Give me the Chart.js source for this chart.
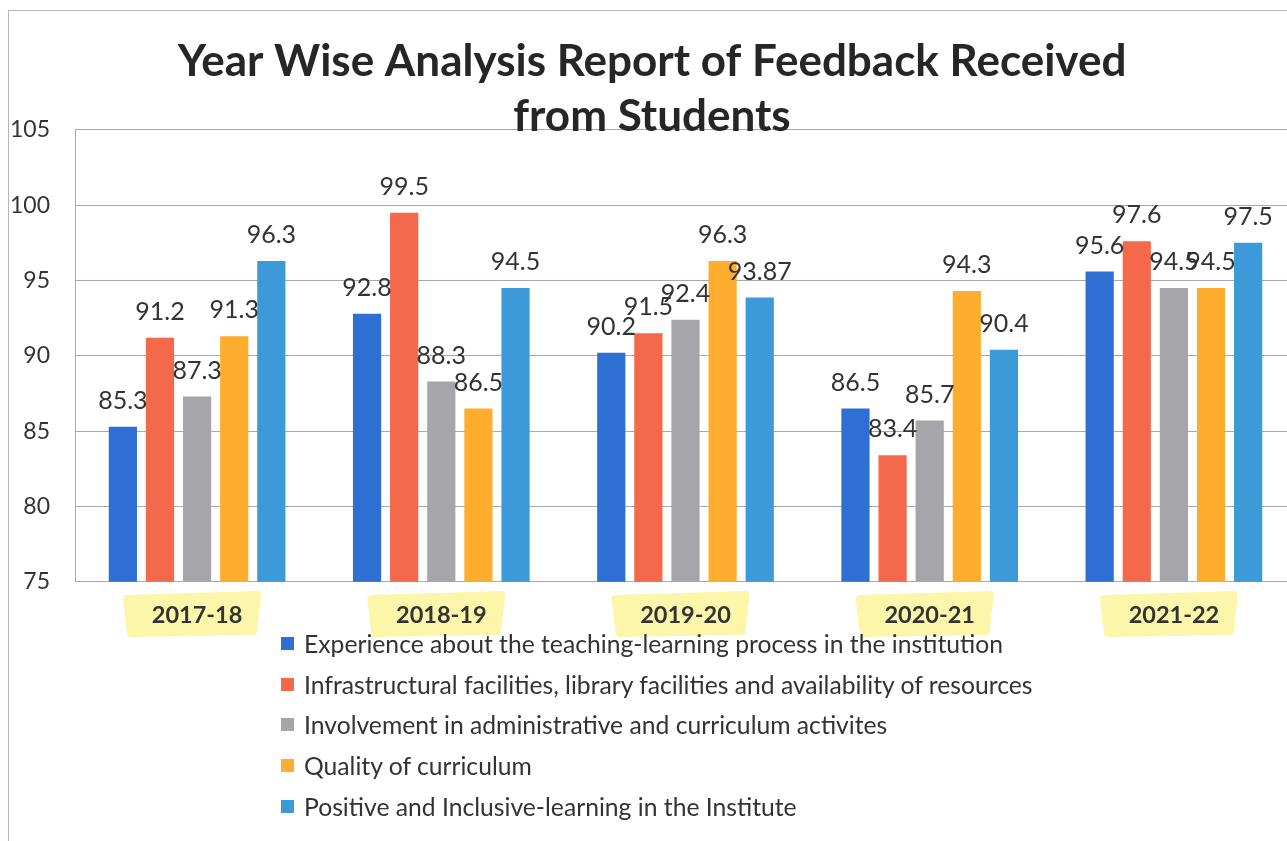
<!DOCTYPE html>
<html>
<head>
<meta charset="utf-8">
<script src="https://cdn.jsdelivr.net/npm/chart.js@4.4.1/dist/chart.umd.min.js"></script>
<style>
html,body{margin:0;padding:0;background:#fff;overflow:hidden;width:1287px;height:841px;}
#wrap{position:relative;width:1310px;height:841px;}
#frame{position:absolute;left:8px;top:10px;width:1400px;height:900px;border-left:1px solid #b4b4c4;border-top:1px solid #b4b4c4;}
canvas{position:absolute;left:0;top:0;}
#legend{position:absolute;left:281px;top:623px;font-family:Lato,sans-serif;font-size:24.7px;color:#333333;}
.row{height:40.7px;display:flex;align-items:center;white-space:nowrap;}
.sw{width:13px;height:13px;margin-right:10px;flex:none;}
</style>
</head>
<body>
<div id="wrap">
  <div id="frame"></div>
  <canvas id="c" width="1310" height="841"></canvas>
  <div id="legend"></div>
</div>
<script>
const TITLE_LINES = ["Year Wise Analysis Report of Feedback Received", "from Students"];
const categories = ["2017-18", "2018-19", "2019-20", "2020-21", "2021-22"];
const seriesNames = [
  "Experience about the teaching-learning process in the institution",
  "Infrastructural facilities, library facilities and availability of resources",
  "Involvement in administrative and curriculum activites",
  "Quality of curriculum",
  "Positive and Inclusive-learning in the Institute"
];
const experience   = [85.3, 92.8, 90.2, 86.5, 95.6];
const infrastructure = [91.2, 99.5, 91.5, 83.4, 97.6];
const involvement  = [87.3, 88.3, 92.4, 85.7, 94.5];
const quality      = [91.3, 86.5, 96.3, 94.3, 94.5];
const positive     = [96.3, 94.5, 93.87, 90.4, 97.5];
const yTicks = [75, 80, 85, 90, 95, 100, 105];

const seriesValues = [experience, infrastructure, involvement, quality, positive];
const colors = ['#2d6fd2', '#f4694c', '#a6a6aa', '#ffad2f', '#3c9ad8'];

const valueLabels = {
  id: 'valueLabels',
  afterDatasetsDraw(chart) {
    const ctx = chart.ctx;
    ctx.save();
    ctx.font = '25px Lato, sans-serif';
    ctx.fillStyle = '#333333';
    ctx.textAlign = 'center';
    ctx.textBaseline = 'middle';
    chart.data.datasets.forEach((ds, di) => {
      const meta = chart.getDatasetMeta(di);
      meta.data.forEach((bar, i) => {
        ctx.fillText(String(ds.data[i]), bar.x, bar.y - 26);
      });
    });
    ctx.restore();
  }
};

const highlights = {
  id: 'highlights',
  beforeDraw(chart) {
    const ctx = chart.ctx;
    const xs = chart.scales.x;
    ctx.save();
    ctx.fillStyle = '#fbf6aa';
    ctx.strokeStyle = '#fbf6aa';
    ctx.lineWidth = 8;
    ctx.lineJoin = 'round';
    categories.forEach((c, i) => {
      const cx = xs.getPixelForTick(i);
      ctx.beginPath();
      ctx.moveTo(cx - 70, 599);
      ctx.lineTo(cx + 60, 595);
      ctx.lineTo(cx + 56, 631);
      ctx.lineTo(cx - 66, 633);
      ctx.closePath();
      ctx.fill();
      ctx.stroke();
    });
    ctx.restore();
  }
};

new Chart(document.getElementById('c'), {
  type: 'bar',
  data: {
    labels: categories,
    datasets: seriesNames.map((n, k) => ({
      label: n,
      data: seriesValues[k],
      backgroundColor: colors[k],
      categoryPercentage: 0.76,
      barPercentage: 0.76
    }))
  },
  options: {
    responsive: false,
    animation: false,
    layout: { padding: { left: 8, right: 14, top: 0, bottom: 191 } },
    plugins: {
      legend: { display: false },
      tooltip: { enabled: false },
      title: {
        display: true,
        text: TITLE_LINES,
        color: '#262626',
        font: { family: 'Lato', size: 44, weight: 'bold', lineHeight: 1.26 },
        padding: { top: 34, bottom: -15 }
      }
    },
    scales: {
      x: {
        grid: { display: false, drawTicks: false },
        border: { display: true, color: '#a8a8b4' },
        ticks: { font: { family: 'Lato', size: 23.5, weight: 'bold' }, color: '#333333', padding: 20 }
      },
      y: {
        min: yTicks[0],
        max: yTicks[yTicks.length - 1],
        afterBuildTicks(s) { s.ticks = yTicks.map(v => ({ value: v })); },
        afterFit(s) { s.width = 67; },
        grid: { color: '#a8a8b4', drawTicks: false },
        border: { display: true, color: '#a8a8b4' },
        ticks: { font: { family: 'Lato', size: 23 }, color: '#333333', padding: 25 }
      }
    }
  },
  plugins: [highlights, valueLabels]
});

const lg = document.getElementById('legend');
seriesNames.forEach((n, k) => {
  const r = document.createElement('div');
  r.className = 'row';
  const s = document.createElement('span');
  s.className = 'sw';
  s.style.background = colors[k];
  const t = document.createElement('span');
  t.textContent = n;
  r.appendChild(s); r.appendChild(t);
  lg.appendChild(r);
});
</script>
</body>
</html>
